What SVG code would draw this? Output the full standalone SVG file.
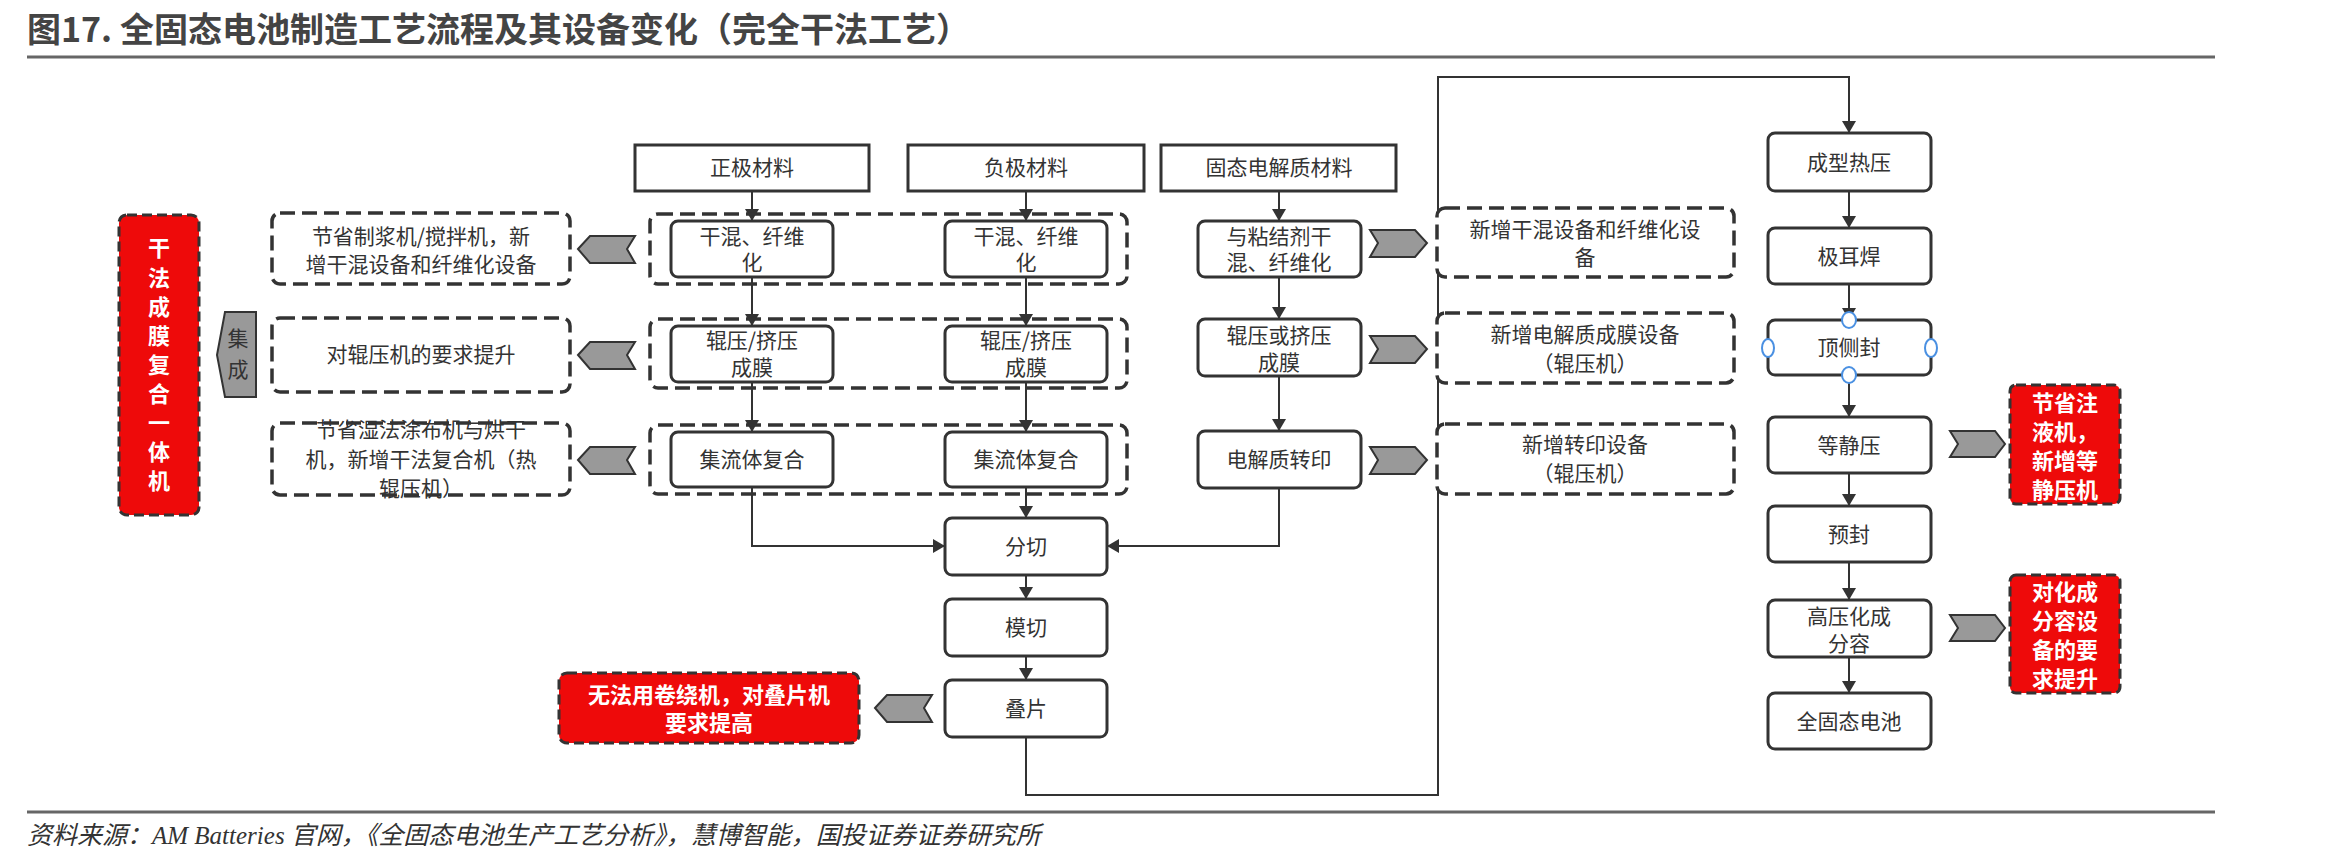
<svg xmlns="http://www.w3.org/2000/svg" width="2339" height="867" viewBox="0 0 2339 867">
<defs>
<marker id="ar" viewBox="0 0 12 14" refX="12" refY="7" markerWidth="12" markerHeight="14" markerUnits="userSpaceOnUse" orient="auto"><path d="M0,0 L12,7 L0,14 z" fill="#333"/></marker>
</defs>
<style>
text{font-family:"Noto Sans CJK SC","Liberation Sans",sans-serif;fill:#333;font-size:21px;text-anchor:middle}
.b{fill:#fff;stroke:#333;stroke-width:3}
.d{fill:none;stroke:#333;stroke-width:3.5;stroke-dasharray:15 7}
.dw{fill:#fff;stroke:#333;stroke-width:3.5;stroke-dasharray:15 7}
.r{fill:#ee0a0a;stroke:#333;stroke-width:3;stroke-dasharray:10 5}
.rt{fill:#fff;font-weight:bold;font-size:22px}
.c{fill:#999;stroke:#333;stroke-width:2}
.ln{fill:none;stroke:#333;stroke-width:2}
.h{fill:#fff;stroke:#4a90e2;stroke-width:2}
</style>
<rect width="2339" height="867" fill="#fff"/>
<text x="27" y="42" style="font-size:34px;font-weight:bold;text-anchor:start;fill:#444">图17. 全固态电池制造工艺流程及其设备变化（完全干法工艺）</text>
<line x1="27" y1="57" x2="2215" y2="57" stroke="#666" stroke-width="3"/>
<line x1="27" y1="812" x2="2215" y2="812" stroke="#666" stroke-width="3"/>
<text x="27" y="844" style="font-size:25px;font-style:italic;text-anchor:start;font-family:'Liberation Serif','Noto Sans CJK SC',serif">资料来源：AM Batteries 官网，《全固态电池生产工艺分析》，慧博智能，国投证券证券研究所</text>

<g id="connectors">
<line class="ln" x1="752" y1="191" x2="752" y2="221" marker-end="url(#ar)"/>
<line class="ln" x1="752" y1="277" x2="752" y2="326" marker-end="url(#ar)"/>
<line class="ln" x1="752" y1="382" x2="752" y2="432" marker-end="url(#ar)"/>
<line class="ln" x1="1026" y1="191" x2="1026" y2="221" marker-end="url(#ar)"/>
<line class="ln" x1="1026" y1="277" x2="1026" y2="326" marker-end="url(#ar)"/>
<line class="ln" x1="1026" y1="382" x2="1026" y2="432" marker-end="url(#ar)"/>
<line class="ln" x1="1279" y1="191" x2="1279" y2="221" marker-end="url(#ar)"/>
<line class="ln" x1="1279" y1="277" x2="1279" y2="319" marker-end="url(#ar)"/>
<line class="ln" x1="1279" y1="376" x2="1279" y2="431" marker-end="url(#ar)"/>
<line class="ln" x1="1026" y1="487" x2="1026" y2="518" marker-end="url(#ar)"/>
<polyline class="ln" points="752,487 752,546 945,546" marker-end="url(#ar)"/>
<polyline class="ln" points="1279,488 1279,546 1107,546" marker-end="url(#ar)"/>
<line class="ln" x1="1026" y1="575" x2="1026" y2="599" marker-end="url(#ar)"/>
<line class="ln" x1="1026" y1="656" x2="1026" y2="680" marker-end="url(#ar)"/>
<polyline class="ln" points="1026,737 1026,795 1438,795 1438,77 1849,77 1849,133" marker-end="url(#ar)"/>
<line class="ln" x1="1849" y1="191" x2="1849" y2="228" marker-end="url(#ar)"/>
<line class="ln" x1="1849" y1="284" x2="1849" y2="320" marker-end="url(#ar)"/>
<line class="ln" x1="1849" y1="375" x2="1849" y2="417" marker-end="url(#ar)"/>
<line class="ln" x1="1849" y1="473" x2="1849" y2="506" marker-end="url(#ar)"/>
<line class="ln" x1="1849" y1="562" x2="1849" y2="600" marker-end="url(#ar)"/>
<line class="ln" x1="1849" y1="657" x2="1849" y2="693" marker-end="url(#ar)"/>
</g>

<g id="groups">
<rect class="d" x="650" y="214" width="477" height="70" rx="8"/>
<rect class="d" x="650" y="319" width="477" height="69" rx="8"/>
<rect class="d" x="650" y="425" width="477" height="69" rx="8"/>
</g>

<g id="m1"><rect class="b" x="635" y="145" width="234" height="46"/><text x="752" y="175">正极材料</text></g>
<g id="m2"><rect class="b" x="908" y="145" width="236" height="46"/><text x="1026" y="175">负极材料</text></g>
<g id="m3"><rect class="b" x="1161" y="145" width="235" height="46"/><text x="1279" y="175">固态电解质材料</text></g>

<g id="p11"><rect class="b" x="671" y="221" width="162" height="56" rx="7"/><text x="752" y="244">干混、纤维</text><text x="752" y="270">化</text></g>
<g id="p21"><rect class="b" x="945" y="221" width="162" height="56" rx="7"/><text x="1026" y="244">干混、纤维</text><text x="1026" y="270">化</text></g>
<g id="p31"><rect class="b" x="1198" y="221" width="163" height="56" rx="7"/><text x="1279" y="244">与粘结剂干</text><text x="1279" y="270">混、纤维化</text></g>
<g id="p12"><rect class="b" x="671" y="326" width="162" height="56" rx="7"/><text x="752" y="348">辊压/挤压</text><text x="752" y="375">成膜</text></g>
<g id="p22"><rect class="b" x="945" y="326" width="162" height="56" rx="7"/><text x="1026" y="348">辊压/挤压</text><text x="1026" y="375">成膜</text></g>
<g id="p32"><rect class="b" x="1198" y="319" width="163" height="57" rx="7"/><text x="1279" y="343">辊压或挤压</text><text x="1279" y="370">成膜</text></g>
<g id="p13"><rect class="b" x="671" y="432" width="162" height="55" rx="7"/><text x="752" y="467">集流体复合</text></g>
<g id="p23"><rect class="b" x="945" y="432" width="162" height="55" rx="7"/><text x="1026" y="467">集流体复合</text></g>
<g id="p33"><rect class="b" x="1198" y="431" width="163" height="57" rx="7"/><text x="1279" y="467">电解质转印</text></g>

<g id="cut"><rect class="b" x="945" y="518" width="162" height="57" rx="7"/><text x="1026" y="554">分切</text></g>
<g id="die"><rect class="b" x="945" y="599" width="162" height="57" rx="7"/><text x="1026" y="635">模切</text></g>
<g id="stack"><rect class="b" x="945" y="680" width="162" height="57" rx="7"/><text x="1026" y="716">叠片</text></g>

<g id="left-red"><rect class="r" x="119" y="215" width="80" height="300" rx="8"/>
<text class="rt" x="159" y="256">干</text><text class="rt" x="159" y="286">法</text><text class="rt" x="159" y="315">成</text><text class="rt" x="159" y="344">膜</text><text class="rt" x="159" y="373">复</text><text class="rt" x="159" y="402">合</text><text class="rt" x="159" y="431">一</text><text class="rt" x="159" y="460">体</text><text class="rt" x="159" y="489">机</text></g>
<g id="jicheng"><polygon class="c" points="217,355 225,312 256,312 256,397 225,397"/><text x="238" y="346">集</text><text x="238" y="377">成</text></g>

<g id="l1"><rect class="dw" x="272" y="213" width="298" height="71" rx="8"/><text x="421" y="244">节省制浆机/搅拌机，新</text><text x="421" y="272">增干混设备和纤维化设备</text></g>
<g id="l2"><rect class="dw" x="272" y="318" width="298" height="74" rx="8"/><text x="421" y="362">对辊压机的要求提升</text></g>
<g id="l3"><rect class="dw" x="272" y="423" width="298" height="72" rx="8"/><text x="421" y="437">节省湿法涂布机与烘干</text><text x="421" y="467">机，新增干法复合机（热</text><text x="421" y="496">辊压机）</text></g>
<g id="cl1"><polygon class="c" points="578,249 590,236 635,236 627,249 635,263 590,263"/></g>
<g id="cl2"><polygon class="c" points="578,355 590,342 635,342 627,355 635,369 590,369"/></g>
<g id="cl3"><polygon class="c" points="578,460 590,447 635,447 627,460 635,474 590,474"/></g>

<g id="cr1"><polygon class="c" points="1370,230 1415,230 1427,243 1415,257 1370,257 1378,243"/></g>
<g id="cr2"><polygon class="c" points="1370,336 1415,336 1427,349 1415,363 1370,363 1378,349"/></g>
<g id="cr3"><polygon class="c" points="1370,447 1415,447 1427,460 1415,474 1370,474 1378,460"/></g>
<g id="r1"><rect class="dw" x="1437" y="208" width="297" height="69" rx="8"/><text x="1585" y="237">新增干混设备和纤维化设</text><text x="1585" y="265">备</text></g>
<g id="r2"><rect class="dw" x="1437" y="313" width="297" height="70" rx="8"/><text x="1585" y="342">新增电解质成膜设备</text><text x="1585" y="371">（辊压机）</text></g>
<g id="r3"><rect class="dw" x="1437" y="424" width="297" height="70" rx="8"/><text x="1585" y="452">新增转印设备</text><text x="1585" y="481">（辊压机）</text></g>

<g id="redstack"><rect class="r" x="559" y="673" width="300" height="70" rx="8"/><text class="rt" x="709" y="703">无法用卷绕机，对叠片机</text><text class="rt" x="709" y="731">要求提高</text></g>
<g id="cstack"><polygon class="c" points="875,708 887,695 932,695 924,708 932,722 887,722"/></g>

<g id="q1"><rect class="b" x="1768" y="133" width="163" height="58" rx="7"/><text x="1849" y="170">成型热压</text></g>
<g id="q2"><rect class="b" x="1768" y="228" width="163" height="56" rx="7"/><text x="1849" y="264">极耳焊</text></g>
<g id="q3"><rect class="b" x="1768" y="320" width="163" height="55" rx="7"/><text x="1849" y="355">顶侧封</text>
<ellipse class="h" cx="1849" cy="320" rx="7" ry="8"/><ellipse class="h" cx="1849" cy="375" rx="7" ry="8"/><ellipse class="h" cx="1768" cy="348" rx="6" ry="9"/><ellipse class="h" cx="1931" cy="348" rx="6" ry="9"/></g>
<g id="q4"><rect class="b" x="1768" y="417" width="163" height="56" rx="7"/><text x="1849" y="453">等静压</text></g>
<g id="q5"><rect class="b" x="1768" y="506" width="163" height="56" rx="7"/><text x="1849" y="542">预封</text></g>
<g id="q6"><rect class="b" x="1768" y="600" width="163" height="57" rx="7"/><text x="1849" y="624">高压化成</text><text x="1849" y="651">分容</text></g>
<g id="q7"><rect class="b" x="1768" y="693" width="163" height="56" rx="7"/><text x="1849" y="729">全固态电池</text></g>

<g id="cq4"><polygon class="c" points="1950,431 1995,431 2005,444 1995,457 1950,457 1958,444"/></g>
<g id="cq6"><polygon class="c" points="1950,615 1995,615 2005,628 1995,641 1950,641 1958,628"/></g>
<g id="red4"><rect class="r" x="2010" y="385" width="110" height="119" rx="6"/><text class="rt" x="2065" y="411">节省注</text><text class="rt" x="2065" y="440">液机，</text><text class="rt" x="2065" y="469">新增等</text><text class="rt" x="2065" y="498">静压机</text></g>
<g id="red6"><rect class="r" x="2010" y="575" width="110" height="118" rx="6"/><text class="rt" x="2065" y="600">对化成</text><text class="rt" x="2065" y="629">分容设</text><text class="rt" x="2065" y="658">备的要</text><text class="rt" x="2065" y="687">求提升</text></g>
</svg>
